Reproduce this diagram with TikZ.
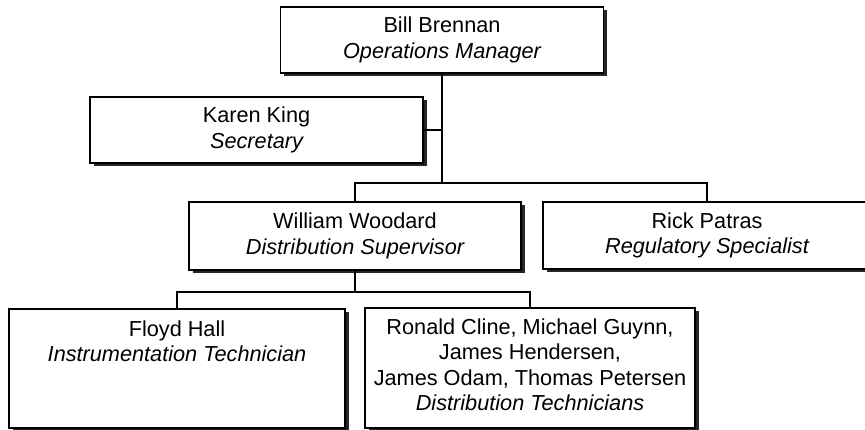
\documentclass[tikz,border=0pt]{standalone}
\usepackage{fontspec}
\setmainfont{Liberation Sans}
\usetikzlibrary{shadows}
\begin{document}
\begin{tikzpicture}[x=1pt,y=-1pt,
  box/.style={draw=black, line width=1.4pt, fill=white, rectangle, inner sep=0pt,
    align=center, font=\fontsize{21.7}{25.5}\selectfont,
    drop shadow={shadow xshift=3.5pt, shadow yshift=-3.5pt, fill=black!85, opacity=1}},
  txt/.style={inner sep=0pt, align=center, font=\fontsize{21.7}{25.5}\selectfont},
  link/.style={draw=black, line width=1.3pt}]
\useasboundingbox (0,0) rectangle (865,430);
\fill[white] (0,0) rectangle (865,430);
\clip (0,0) rectangle (865,430);
% boxes
\node[box, minimum width=323pt, minimum height=66pt] (bill) at (442,40)
  {Bill Brennan\\\itshape Operations Manager};
\node[box, minimum width=333pt, minimum height=66pt] (karen) at (256.5,130)
  {Karen King\\\itshape Secretary};
\node[box, minimum width=332pt, minimum height=68pt] (william) at (355,236)
  {William Woodard\\\itshape Distribution Supervisor};
\node[box, minimum width=328pt, minimum height=67pt] (rick) at (707,235.5)
  {Rick Patras\\\itshape Regulatory Specialist};
\node[box, minimum width=336pt, minimum height=119pt] (floyd) at (177,368.5) {};
\node[box, minimum width=330pt, minimum height=120pt] (ronald) at (530,368) {};
\node[txt, anchor=north] (floydt) at ([yshift=-12pt]floyd.north)
  {Floyd Hall\\\itshape Instrumentation Technician};
\node[txt, anchor=north] (ronaldt) at ([yshift=-11pt]ronald.north)
  {Ronald Cline, Michael Guynn,\\James Hendersen,\\James Odam, Thomas Petersen\\\itshape Distribution Technicians};
% bus coordinates
\coordinate (bus1) at (442,183);
\coordinate (bus2) at (355,292);
% connectors
\draw[link] (bill.south) -- (bus1);
\draw[link] (karen.east) -- (karen.east -| bill.south);
\draw[link] (william.north) -- (william.north |- bus1) -- (rick.north |- bus1) -- (rick.north);
\draw[link] (william.south) -- (bus2);
\draw[link] (floyd.north) -- (floyd.north |- bus2) -- (ronald.north |- bus2) -- (ronald.north);
\end{tikzpicture}
\end{document}
